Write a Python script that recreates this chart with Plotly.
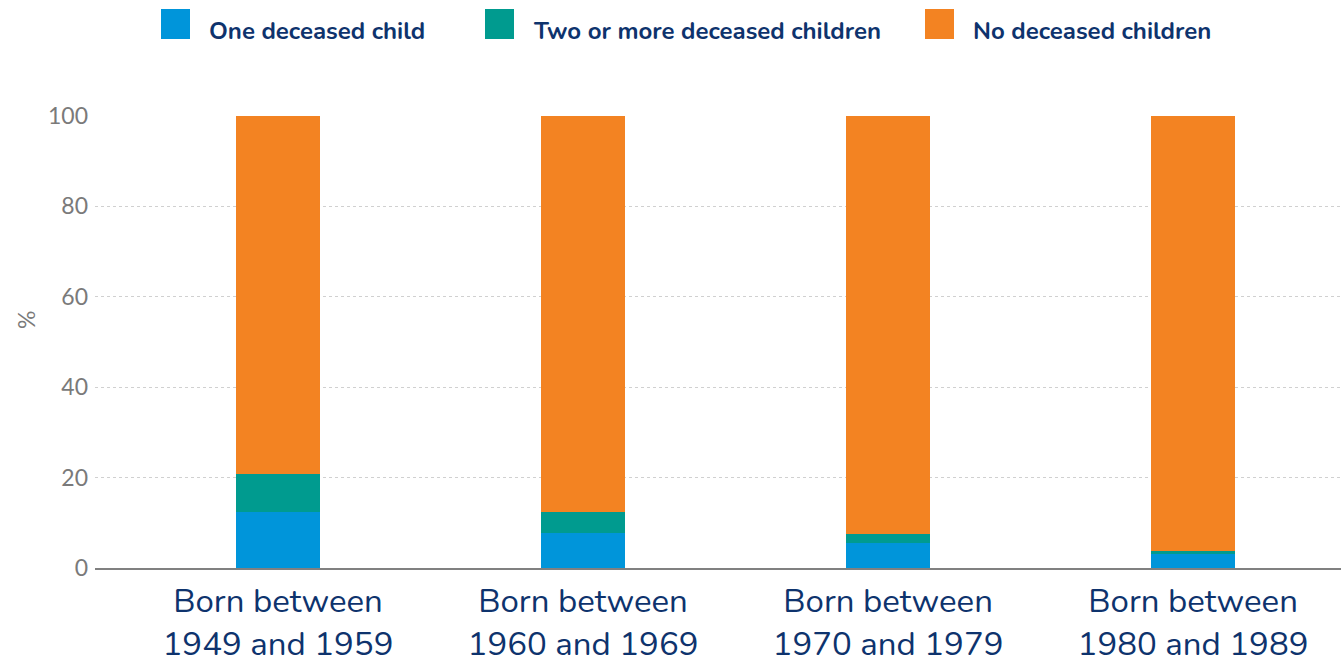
import plotly.graph_objects as go

# Birth cohorts and share of women (%) by number of deceased children
cohorts = ["Born between<br>1949 and 1959", "Born between<br>1960 and 1969",
           "Born between<br>1970 and 1979", "Born between<br>1980 and 1989"]
one_deceased = [12.5, 7.7, 5.6, 3.0]
two_or_more = [8.3, 4.6, 2.0, 0.8]
none_deceased = [79.2, 87.7, 92.4, 96.2]

series_names = ["One deceased child", "Two or more deceased children", "No deceased children"]
series_values = [one_deceased, two_or_more, none_deceased]
series_colors = ["#0095DA", "#009B8F", "#F38322"]

NAVY = "#0E336D"
GREY = "#7A7A7A"

fig = go.Figure()
for name, vals, col in zip(series_names, series_values, series_colors):
    fig.add_trace(go.Bar(x=list(range(len(cohorts))), y=vals, name=name,
                         marker=dict(color=col, line=dict(width=0)),
                         width=0.275, showlegend=False))

# Custom legend row across the top
L, R, B, T = 95, 1341, 568, 116
pw, ph = R - L, B - T
def px_x(px):
    return (px - L) / pw
def px_y(py):
    return (B - py) / ph

square_left = [161, 485, 925]
text_left = [207, 531, 971]
for name, col, sx, tx in zip(series_names, series_colors, square_left, text_left):
    fig.add_shape(type="rect", xref="paper", yref="paper",
                  x0=px_x(sx), x1=px_x(sx + 29), y0=px_y(39), y1=px_y(9),
                  fillcolor=col, line=dict(width=0))
    fig.add_annotation(xref="paper", yref="paper", x=px_x(tx), y=px_y(31),
                       xanchor="left", yanchor="middle", showarrow=False,
                       text=f"<b>{name}</b>",
                       font=dict(family="Nunito, Lato, sans-serif", size=24, color=NAVY))

# Y-axis unit label
fig.add_annotation(xref="paper", yref="paper", x=px_x(26), y=px_y(320),
                   xanchor="center", yanchor="middle", showarrow=False,
                   text="%", textangle=-90,
                   font=dict(family="Lato, sans-serif", size=23, color=GREY))

fig.update_layout(
    width=1341, height=665,
    margin=dict(l=L, r=1341 - R, t=T, b=665 - B),
    paper_bgcolor="white", plot_bgcolor="white",
    barmode="stack",
    xaxis=dict(range=[-0.6, 3.485], tickmode="array",
               tickvals=list(range(len(cohorts))), ticktext=cohorts,
               tickfont=dict(family="Nunito, Lato, sans-serif", size=33, color=NAVY),
               showgrid=False, zeroline=False, automargin=False,
               showline=True, linecolor="#808080", linewidth=2,
               ticks="", ticklabelstandoff=2),
    yaxis=dict(range=[0, 100], tickvals=[0, 20, 40, 60, 80, 100],
               tickfont=dict(family="Lato, sans-serif", size=23, color=GREY),
               showgrid=True, gridcolor="#D0D0D0", griddash="dot", gridwidth=1,
               zeroline=False, showline=False, ticks="", automargin=False,
               ticklabelstandoff=6),
)

fig.write_html("out.html")
